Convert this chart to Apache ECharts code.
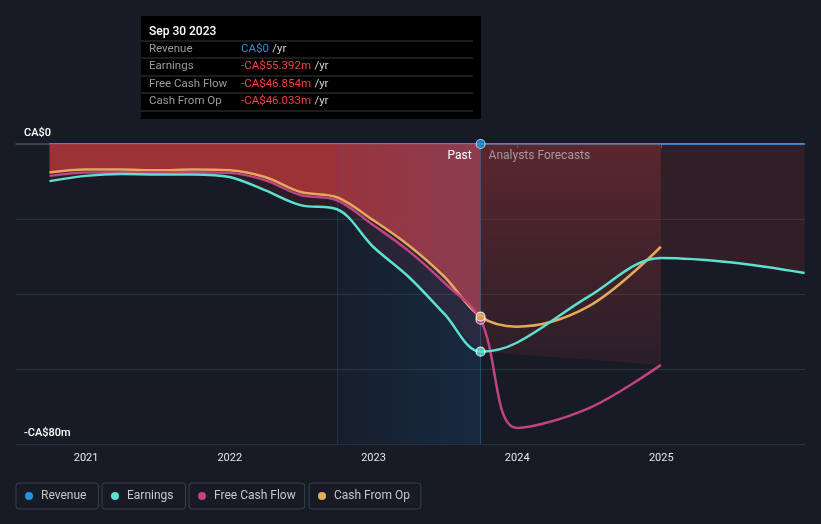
<!DOCTYPE html>
<html>
<head>
<meta charset="utf-8">
<script src="https://cdn.jsdelivr.net/npm/echarts@6/dist/echarts.min.js"></script>
<style>
html,body{margin:0;padding:0;background:#161b25;}
#chart{width:821px;height:524px;}
</style>
</head>
<body>
<div id="chart"></div>
<script>
// ---- data ----
const pastDates = ['2020-09-30','2020-12-31','2021-03-31','2021-06-30','2021-09-30','2021-12-31','2022-03-31','2022-06-30','2022-09-30','2022-12-31','2023-03-31','2023-06-30','2023-09-30'];
const revenuePast = [0,0,0,0,0,0,0,0,0,0,0,0,0];
const earningsPast = [-9.9,-8.5,-8.0,-8.1,-8.1,-8.8,-12.3,-16.3,-17.4,-27.4,-35.4,-45.3,-55.392];
const fcfPast = [-8.5,-7.6,-7.5,-7.6,-7.5,-7.7,-9.6,-13.6,-15.0,-21.6,-28.5,-37.0,-46.854];
const cfoPast = [-7.6,-6.8,-6.8,-7.0,-6.8,-7.0,-8.8,-12.8,-14.2,-20.3,-27.0,-35.4,-46.033];

const forecastDates = ['2023-09-30','2023-12-31','2024-06-30','2024-12-31'];
const fcfForecast = [-46.854,-75.7,-70.5,-58.9];
const cfoForecast = [-46.033,-48.7,-43.3,-27.4];
const earningsForecastDates = ['2023-09-30','2023-12-31','2024-06-30','2024-12-31','2025-06-30','2025-12-31'];
const earningsForecast = [-55.392,-53.0,-40.7,-30.4,-31.6,-34.4];
const revenueForecastDates = ['2023-09-30','2025-12-31'];
const revenueForecast = [0,0];

const highlightStart = '2022-09-30';
const nowDate = '2023-09-30';
const yTicks = [0,-80];
const yTickLabels = ['CA$0','-CA$80m'];
const seriesNames = ['Revenue','Earnings','Free Cash Flow','Cash From Op'];
const colors = {Revenue:'#2394df', Earnings:'#5ee0d0', 'Free Cash Flow':'#c2437f', 'Cash From Op':'#e6a95c'};

// ---- helpers ----
const zip = (d, v) => d.map((x, i) => [x, v[i]]);
const joinSeries = (d1, v1, d2, v2) => zip(d1, v1).concat(zip(d2, v2).slice(1));
const fmt = v => v === 0 ? 'CA$0' : (v < 0 ? '-' : '') + 'CA$' + Math.abs(v).toFixed(3) + 'm';
const SM = 0.35;

const earningsAll = joinSeries(pastDates, earningsPast, earningsForecastDates, earningsForecast);
const fcfAll = joinSeries(pastDates, fcfPast, forecastDates, fcfForecast);
const cfoAll = joinSeries(pastDates, cfoPast, forecastDates, cfoForecast);
const revenueAll = joinSeries(pastDates, revenuePast, revenueForecastDates, revenueForecast);
const lastIdx = pastDates.length - 1;

const FONT = 'Roboto, "Noto Sans", sans-serif';
const chart = echarts.init(document.getElementById('chart'));

const lineSeries = (name, data, z) => ({
  name, type:'line', data, smooth:SM, showSymbol:false, z,
  lineStyle:{color:colors[name], width:2.5}, itemStyle:{color:colors[name]}, silent:true
});

const tooltipRows = [
  ['Revenue', revenuePast[lastIdx], '#2394df'],
  ['Earnings', earningsPast[lastIdx], '#f04343'],
  ['Free Cash Flow', fcfPast[lastIdx], '#f04343'],
  ['Cash From Op', cfoPast[lastIdx], '#f04343']
];
const TF = '11.5px ' + FONT;
const graphic = [
  {type:'rect', left:141, top:16, shape:{width:340, height:103}, style:{fill:'#000'}, z:100},
  {type:'text', left:149, top:26, style:{text:'Sep 30 2023', fill:'#ffffff', font:'500 12px ' + FONT}, z:101}
];
[41,58,76,93,111].forEach(y => graphic.push({type:'line', shape:{x1:141,y1:y,x2:473,y2:y}, style:{stroke:'#3a3a3a', lineWidth:1}, z:101}));
tooltipRows.forEach((r, i) => {
  const cy = 49 + i * 17.5;
  graphic.push({type:'text', left:149, top:cy - 6, style:{text:r[0], fill:'#9b9b9b', font:TF}, z:101});
  graphic.push({type:'text', left:241, top:cy - 6, style:{
    text:'{v|' + fmt(r[1]) + '} {u|/yr}',
    rich:{v:{fill:r[2], font:TF}, u:{fill:'#d0d0d0', font:TF}}
  }, z:101});
});

const legendLefts = [16, 102, 189, 309];
const legendPadRight = [12, 12, 9, 11];
const legends = seriesNames.map((n, i) => ({
  data:[n], left:legendLefts[i], top:483, orient:'horizontal',
  icon:'circle', itemWidth:14, itemHeight:8, itemGap:0,
  padding:[7,legendPadRight[i],7,9], borderColor:'#3b414c', borderWidth:1, borderRadius:3,
  textStyle:{color:'#c8c8c8', fontSize:12, fontFamily:FONT}
}));

chart.setOption({
  backgroundColor:'#161b25',
  animation:false,
  textStyle:{fontFamily:FONT},
  grid:{left:16, right:16, top:144, bottom:80, containLabel:false},
  legend: legends,
  graphic,
  xAxis:{
    type:'time', min:'2020-07-07', max:'2026-01-01',
    minInterval:365*864e5, maxInterval:366*864e5,
    axisLine:{lineStyle:{color:'#4a505b', width:1.5}},
    axisTick:{show:true, length:4, lineStyle:{color:'#5b616b'}},
    axisLabel:{formatter:'{yyyy}', color:'#e6e6e6', fontSize:11, margin:9, fontFamily:FONT},
    splitLine:{show:false}
  },
  yAxis:{
    type:'value', min:-80, max:0, interval:20,
    axisLine:{show:false}, axisTick:{show:false},
    splitLine:{lineStyle:{color:'#2b313c', width:1}},
    axisLabel:{
      inside:true, margin:8, align:'left', verticalAlign:'bottom', padding:[0,0,5,0],
      color:'#ffffff', fontSize:11, fontWeight:500, fontFamily:FONT,
      formatter: v => { const k = yTicks.indexOf(v); return k >= 0 ? yTickLabels[k] : ''; }
    }
  },
  series:[
    // revenue line (beneath fills)
    {name:'Revenue', type:'line', data:revenueAll, showSymbol:false, z:1, silent:true,
     lineStyle:{color:colors.Revenue, width:2}, itemStyle:{color:colors.Revenue}},
    // fills
    {type:'line', data:zip(pastDates, earningsPast), smooth:SM, showSymbol:false, z:2, silent:true,
     lineStyle:{width:0}, areaStyle:{color:'rgba(160,50,55,0.15)', opacity:1}},
    {type:'line', data:zip(pastDates, cfoPast), smooth:SM, showSymbol:false, z:2, silent:true,
     lineStyle:{width:0}, areaStyle:{color:'rgba(168,52,57,0.9)', opacity:1}},
    {type:'line', data:[[forecastDates[0], earningsForecast[0]], [forecastDates[forecastDates.length-1], fcfForecast[fcfForecast.length-1]]],
     showSymbol:false, z:2, silent:true, lineStyle:{width:0},
     areaStyle:{opacity:1, color:new echarts.graphic.LinearGradient(0,0,0,1,[{offset:0,color:'rgba(160,50,55,0.5)'},{offset:1,color:'rgba(160,50,55,0.14)'}])}},
    {type:'line', data:zip(earningsForecastDates.slice(3), earningsForecast.slice(3)), smooth:SM, showSymbol:false, z:2, silent:true,
     lineStyle:{width:0}, areaStyle:{color:'rgba(160,50,55,0.2)', opacity:1}},
    // highlight overlay + labels
    {type:'line', data:[], z:3, silent:true,
     markArea:{silent:true, z:3, data:[[{xAxis:highlightStart, yAxis:0, itemStyle:{opacity:1, color:new echarts.graphic.LinearGradient(0,0,1,0,[{offset:0,color:'rgba(30,140,255,0.03)'},{offset:1,color:'rgba(30,140,255,0.13)'}])}},{xAxis:nowDate, yAxis:-80}]]},
     markLine:{silent:true, symbol:'none', label:{show:false}, z:3,
       data:[{xAxis:highlightStart, lineStyle:{color:'rgba(40,90,140,0.35)', width:1, type:'solid'}},
             {xAxis:nowDate, lineStyle:{color:'rgba(40,110,170,0.55)', width:1, type:'solid'}}]},
     markPoint:{silent:true, symbol:'circle', symbolSize:0, z:4,
       data:[
         {coord:[nowDate,0], label:{show:true, formatter:'Past', position:'left', distance:9, offset:[0,12], color:'#ffffff', fontSize:12, fontFamily:FONT}},
         {coord:[nowDate,0], label:{show:true, formatter:'Analysts Forecasts', position:'right', distance:8, offset:[0,12], color:'#a5999f', fontSize:12, fontFamily:FONT}}
       ]}
    },
    // lines
    lineSeries('Cash From Op', cfoAll, 5),
    lineSeries('Free Cash Flow', fcfAll, 6),
    lineSeries('Earnings', earningsAll, 7),
    // current points
    {type:'scatter', z:10, silent:true, symbolSize:9,
     data:[
       {value:[nowDate, fcfPast[lastIdx]], itemStyle:{color:colors['Free Cash Flow'], borderColor:'#ffffff', borderWidth:1.2}},
       {value:[nowDate, cfoPast[lastIdx]], itemStyle:{color:colors['Cash From Op'], borderColor:'#ffffff', borderWidth:1.2}},
       {value:[nowDate, earningsPast[lastIdx]], itemStyle:{color:colors.Earnings, borderColor:'#ffffff', borderWidth:1.2}},
       {value:[nowDate, revenuePast[lastIdx]], itemStyle:{color:colors.Revenue, borderColor:'#bfe0ff', borderWidth:1.2}}
     ]}
  ]
});
</script>
</body>
</html>
